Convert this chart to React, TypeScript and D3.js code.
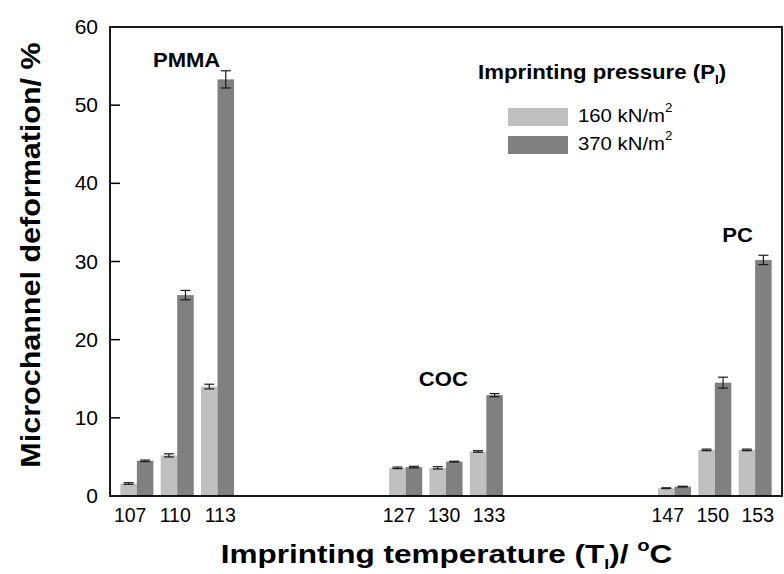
import React from 'react';
import * as d3 from 'd3';

// imprinting temperatures (°C) and deformation (%) for the two pressures
const temperatures = [107, 110, 113, 127, 130, 133, 147, 150, 153];
const low = [1.6, 5.2, 14.0, 3.6, 3.6, 5.7, 1.0, 5.9, 5.9];
const lowErr = [0.1, 0.2, 0.3, 0.1, 0.15, 0.1, 0.05, 0.1, 0.1];
const high = [4.5, 25.7, 53.3, 3.7, 4.4, 12.9, 1.2, 14.5, 30.2];
const highErr = [0.1, 0.6, 1.1, 0.1, 0.05, 0.2, 0.05, 0.7, 0.6];
const yTicks = [0, 10, 20, 30, 40, 50, 60];
const legendLabels = ['160 kN/m', '370 kN/m'];
const materials = [
  { name: 'PMMA', t: 110.7, v: 54.9 },
  { name: 'COC', t: 129.8, v: 14.1 },
  { name: 'PC', t: 151.7, v: 32.5 },
];

const LIGHT = '#c0c0c0';
const DARK = '#808080';
const FONT = 'Arial, "Liberation Sans", sans-serif';

const W = 784;
const H = 574;
const margin = { top: 27, right: 2, bottom: 78, left: 110 };

// text stretched horizontally, like the original export
const Txt = ({ x, y, sx = 1, rot = 0, children, ...rest }: any) => (
  <text transform={`translate(${x},${y}) rotate(${rot}) scale(${sx},1)`} {...rest}>{children}</text>
);

export default function App() {
  const x = d3.scaleLinear().domain([105, 155]).range([margin.left, W - margin.right]);
  const y = d3.scaleLinear().domain([0, 60]).range([H - margin.bottom, margin.top]);
  const bw = x(106.23) - x(105); // bar width ~1.23 °C
  const y0 = y(0);

  const bar = (t: number, v: number, e: number, side: number, color: string, key: string) => {
    const x0 = side < 0 ? x(t) - bw : x(t);
    const cx = x0 + bw / 2;
    return (
      <g key={key}>
        <rect x={x0} y={y(v)} width={bw} height={y0 - y(v)} fill={color} />
        <g stroke="#1a1a1a" strokeWidth={1.2}>
          <line x1={cx} x2={cx} y1={y(v + e)} y2={y(v - e)} />
          <line x1={cx - 5} x2={cx + 5} y1={y(v + e)} y2={y(v + e)} />
          <line x1={cx - 5} x2={cx + 5} y1={y(v - e)} y2={y(v - e)} />
        </g>
      </g>
    );
  };

  // x labels: one row per material group, a little wider apart than the bars
  const groups = [temperatures.slice(0, 3), temperatures.slice(3, 6), temperatures.slice(6, 9)];

  return (
    <svg width={W} height={H} style={{ position: 'fixed', left: 0, top: 0, background: '#fff' }} fontFamily={FONT}>
      {temperatures.map((t, i) => bar(t, low[i], lowErr[i], -1, LIGHT, `l${t}`))}
      {temperatures.map((t, i) => bar(t, high[i], highErr[i], 1, DARK, `h${t}`))}

      {/* frame */}
      <rect x={margin.left} y={margin.top} width={W - margin.right - margin.left} height={y0 - margin.top}
        fill="none" stroke="#000" strokeWidth={1.8} />

      {/* y ticks */}
      {yTicks.map(v => (
        <g key={v}>
          {v > 0 && v < 60 && <line x1={margin.left} x2={margin.left + 10} y1={y(v)} y2={y(v)} stroke="#000" strokeWidth={1.5} />}
          <Txt x={98} y={y(v) + 7} sx={1.05} textAnchor="end" fontSize={20}>{v}</Txt>
        </g>
      ))}

      {/* x labels */}
      {groups.map(g => g.map((t, i) => (
        <text key={t} x={x(g[1]) - 2 + (i - 1) * 45} y={521.5} textAnchor="middle" fontSize={19.5}>{t}</text>
      )))}

      {/* material labels */}
      {materials.map(m => (
        <Txt key={m.name} x={x(m.t)} y={y(m.v)} sx={1.05} textAnchor="middle" fontSize={21} fontWeight="bold">{m.name}</Txt>
      ))}

      {/* legend */}
      <Txt x={478} y={79} sx={1.14} fontSize={19.5} fontWeight="bold">
        Imprinting pressure (P<tspan fontSize={12} dy={5}>I</tspan><tspan dy={-5}>)</tspan>
      </Txt>
      {legendLabels.map((l, i) => (
        <g key={l} transform={`translate(508,${108 + i * 28})`}>
          <rect width={60} height={18} fill={i === 0 ? LIGHT : DARK} />
          <Txt x={70} y={14} sx={1.1} fontSize={18.5}>
            {l}<tspan fontSize={12} dy={-10}>2</tspan>
          </Txt>
        </g>
      ))}

      {/* axis titles */}
      <Txt x={446.5} y={563} sx={1.19} textAnchor="middle" fontSize={26.5} fontWeight="bold">
        Imprinting temperature (T<tspan fontSize={15} dy={6}>I</tspan><tspan dy={-6}>)/ </tspan>
        <tspan fontSize={17} dy={-12}>o</tspan><tspan dy={12}>C</tspan>
      </Txt>
      <Txt x={40} y={255} rot={-90} sx={1.13} textAnchor="middle" fontSize={27} fontWeight="bold">
        Microchannel deformation/ %
      </Txt>
    </svg>
  );
}
